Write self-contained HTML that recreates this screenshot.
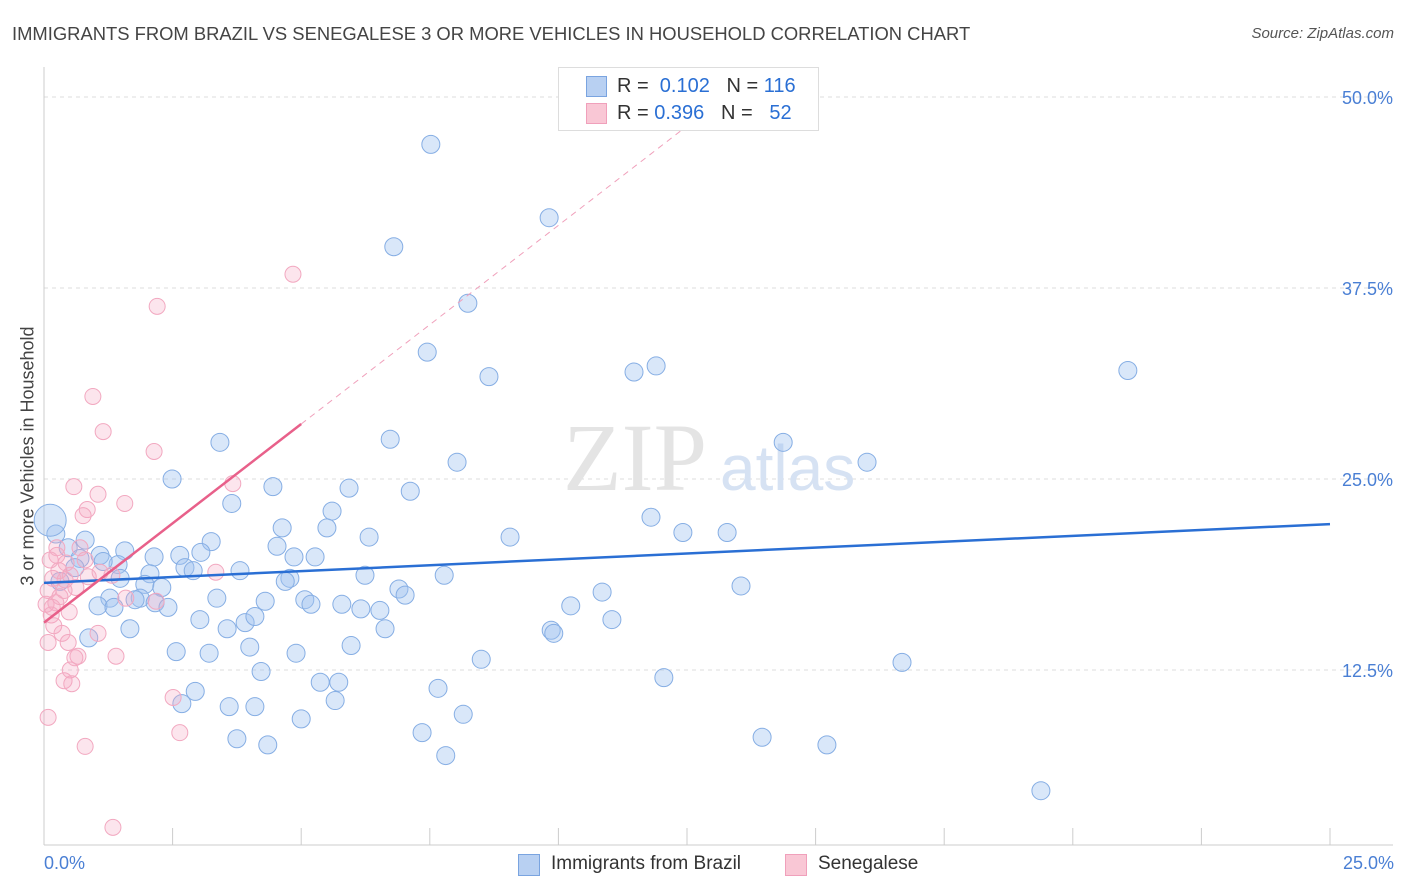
<!DOCTYPE html>
<html><head><meta charset="utf-8"><style>
body{margin:0;background:#fff;font-family:"Liberation Sans",sans-serif;}
#wrap{position:relative;width:1406px;height:892px;overflow:hidden;}
.t{position:absolute;white-space:nowrap;}
</style></head><body>
<div id="wrap">
<div class="t" style="left:12px;top:23px;font-size:18.4px;color:#444;">IMMIGRANTS FROM BRAZIL VS SENEGALESE 3 OR MORE VEHICLES IN HOUSEHOLD CORRELATION CHART</div>
<div class="t" style="right:12px;top:25px;font-size:15px;color:#555;font-style:italic;">Source: ZipAtlas.com</div>
<svg id="svg" width="1406" height="892" style="position:absolute;left:0;top:0"></svg>
</div>
<script>
const blueX=[7.52,9.82,6.80,8.24,7.45,8.65,11.47,11.90,21.07,6.73,3.42,14.37,16.0,8.03,2.49,4.45,5.93,7.12,3.65,5.60,11.80,4.63,5.50,12.42,13.28,9.06,6.32,3.25,4.53,0.23,0.80,0.47,1.57,1.09,2.14,2.64,3.05,4.86,5.27,0.70,1.44,2.74,2.06,2.90,3.81,1.48,4.78,6.24,7.78,0.31,1.96,2.29,4.69,6.90,7.02,10.85,13.55,1.28,1.87,3.36,4.30,5.07,5.19,5.79,6.16,6.53,10.24,1.05,1.36,1.77,2.16,2.41,3.03,3.56,3.91,4.10,6.63,11.04,1.67,9.86,9.91,0.87,2.57,3.21,4.00,4.90,5.97,8.50,4.22,16.68,5.37,5.73,7.66,12.05,2.94,2.68,3.60,4.10,5.66,5.00,8.15,3.75,4.35,7.35,13.96,15.22,7.81,19.38,1.15,0.60];
const blueY=[46.9,42.1,40.2,36.5,33.3,31.7,32.0,32.4,32.1,27.6,27.4,27.4,26.1,26.1,25.0,24.5,24.4,24.2,23.4,22.9,22.5,21.8,21.8,21.5,21.5,21.2,21.2,20.9,20.6,21.4,21.0,20.5,20.3,20.0,19.9,20.0,20.2,19.9,19.9,19.8,19.4,19.2,18.8,19.0,19.0,18.5,18.5,18.7,18.7,18.3,18.1,17.9,18.3,17.8,17.4,17.6,18.0,17.2,17.2,17.2,17.0,17.1,16.8,16.8,16.5,16.4,16.7,16.7,16.6,17.1,16.9,16.6,15.8,15.2,15.6,16.0,15.2,15.8,15.2,15.1,14.9,14.6,13.7,13.6,14.0,13.6,14.1,13.2,12.4,13.0,11.7,11.7,11.3,12.0,11.1,10.3,10.1,10.1,10.5,9.3,9.6,8.0,7.6,8.4,8.1,7.6,6.9,4.6,19.6,19.2];
const bigX=[0.12], bigY=[22.3];
const pinkX=[4.84,2.20,0.95,1.15,2.14,0.58,3.67,1.05,1.57,0.84,0.76,0.25,0.70,0.43,0.86,1.32,0.17,0.41,3.34,0.62,0.08,0.31,2.18,1.59,0.23,0.49,0.14,0.19,0.35,0.08,0.47,1.05,0.66,0.60,1.40,0.51,0.39,0.54,2.51,0.08,2.64,0.80,1.34,0.04,0.16,0.29,0.51,0.80,0.39,1.09,0.12,0.25];
const pinkY=[38.4,36.3,30.4,28.1,26.8,24.5,24.7,24.0,23.4,23.0,22.6,20.5,20.5,19.5,18.6,18.7,18.5,18.4,18.9,17.9,17.7,17.3,17.0,17.2,16.9,16.3,16.1,15.4,14.9,14.3,14.3,14.9,13.4,13.3,13.4,12.5,11.8,11.6,10.7,9.4,8.4,7.5,2.2,16.8,16.6,19.0,18.7,19.7,17.7,18.9,19.7,20.0];
const blueTrend=[18.2,22.05];
const pinkTrend=[15.6,2.6];
const yTicks=[12.5,25.0,37.5,50.0];
const X=v=>44+v*51.44, Y=v=>861-v*15.28;
const s=document.getElementById('svg'),NS='http://www.w3.org/2000/svg';
function el(t,a,p){const e=document.createElementNS(NS,t);for(const k in a)e.setAttribute(k,a[k]);(p||s).appendChild(e);return e;}
yTicks.forEach(v=>{
 const g=el('line',{x1:44,x2:1393,y1:Y(v),y2:Y(v),stroke:'#ddd','stroke-dasharray':'4,4'});
 
 const t=el('text',{x:1393,y:Y(v)+7,'text-anchor':'end','font-size':18,fill:'#4a7fd4'});t.textContent=v.toFixed(1)+'%';
 
});
el('line',{x1:44,x2:44,y1:67,y2:845,stroke:'#ccc'});
el('line',{x1:44,x2:1393,y1:845,y2:845,stroke:'#ccc'});
for(let i=0;i<=10;i++){const tk=el('line',{x1:X(i*2.5),x2:X(i*2.5),y1:828,y2:845,stroke:'#ccc'});}
const wm=el('text',{x:635,y:490,'text-anchor':'middle','font-size':96,fill:'#e4e4e4','font-family':'Liberation Serif'});wm.textContent='ZIP';
const wm2=el('text',{x:720,y:490,'font-size':64,fill:'#d6e2f3'});wm2.textContent='atlas';
function dots(xs,ys,r,fill,stroke,name){xs.forEach((x,i)=>{const c=el('circle',{cx:X(x),cy:Y(ys[i]),r:r,fill:fill,stroke:stroke,'stroke-width':1});
 });}
dots(blueX,blueY,9,'rgba(160,195,240,0.4)','#86aee4','brazil-point');
dots(bigX,bigY,16,'rgba(160,195,240,0.4)','#86aee4','brazil-point');
dots(pinkX,pinkY,8,'rgba(245,170,195,0.3)','#f2a8c0','senegalese-point');
const bl=el('line',{x1:X(0),y1:Y(blueTrend[0]),x2:X(25),y2:Y(blueTrend[1]),stroke:'#2a6fd4','stroke-width':2.5});

const pe=(50-pinkTrend[0])/pinkTrend[1];
const pd=el('line',{x1:X(5),y1:Y(pinkTrend[0]+5*pinkTrend[1]),x2:X(pe),y2:Y(50),stroke:'#f0a0bb','stroke-width':1,'stroke-dasharray':'6,5'});

const pl=el('line',{x1:X(0),y1:Y(pinkTrend[0]),x2:X(5),y2:Y(pinkTrend[0]+5*pinkTrend[1]),stroke:'#e8608a','stroke-width':2.5});

</script>
<div class="t" style="left:28px;top:456px;transform:translate(-50%,-50%) rotate(-90deg);font-size:18px;color:#444;">3 or more Vehicles in Household</div>
<div class="t" style="left:44px;top:853px;font-size:18px;color:#4a7fd4;">0.0%</div>
<div class="t" style="right:12px;top:853px;font-size:18px;color:#4a7fd4;">25.0%</div>
<div style="position:absolute;left:558px;top:67px;width:259px;height:62px;border:1px solid #ddd;background:#fff;font-size:20px;color:#333;">
 <div style="position:absolute;left:27px;top:8px;width:19px;height:19px;background:#b8d0f2;border:1px solid #7aa4e0;"></div>
 <div class="t" style="left:58px;top:7px;">R = <span style="color:#2a6fd4">&nbsp;0.102</span>&nbsp;&nbsp;&nbsp;N = <span style="color:#2a6fd4">116</span></div>
 <div style="position:absolute;left:27px;top:35px;width:19px;height:19px;background:#f9c7d5;border:1px solid #f0a0bb;"></div>
 <div class="t" style="left:58px;top:34px;">R = <span style="color:#2a6fd4">0.396</span>&nbsp;&nbsp;&nbsp;N = <span style="color:#2a6fd4">&nbsp;&nbsp;52</span></div>
</div>
<div style="position:absolute;left:518px;top:853px;font-size:19px;color:#333;">
 <div style="position:absolute;left:0;top:1px;width:20px;height:20px;background:#b8d0f2;border:1px solid #7aa4e0;"></div>
 <div class="t" style="left:33px;top:0;">Immigrants from Brazil</div>
 <div style="position:absolute;left:267px;top:1px;width:20px;height:20px;background:#f9c7d5;border:1px solid #f0a0bb;"></div>
 <div class="t" style="left:300px;top:0;">Senegalese</div>
</div>
</body></html>
